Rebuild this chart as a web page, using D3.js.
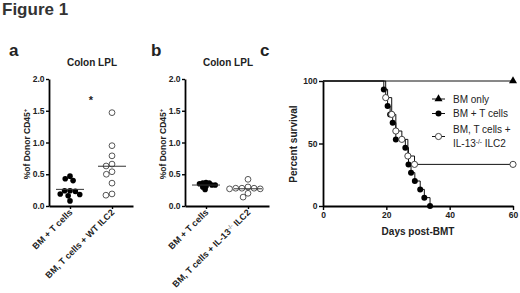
<!DOCTYPE html>
<html>
<head>
<meta charset="utf-8">
<script src="https://cdn.jsdelivr.net/npm/d3@7"></script>
<style>
  body { margin: 0; background: #fff; }
  svg { font-family: "Liberation Sans", Arial, sans-serif; }
  .axis path, .axis line { stroke: #000; }
  .axis path { stroke-width: 1.8; }
  .axis line { stroke-width: 1.4; }
  .axis text { font-size: 8.5px; font-weight: bold; fill: #222; }
</style>
</head>
<body>
<div id="chart"></div>
<script>
// panel a / b categories
const catsA = ["BM + T cells", "BM, T cells + WT ILC2"];
const catsB = ["BM + T cells", "BM, T cells + IL-13 ILC2"];
const yTicksAB = [0, 0.5, 1.0, 1.5, 2.0];

// % of donor CD45+ (colon LPL)
const aBmT = [0.47, 0.40, 0.43, 0.18, 0.24, 0.23, 0.24, 0.19, 0.08, 0.16];
const aWtIlc2 = [1.47, 0.95, 0.79, 0.66, 0.63, 0.50, 0.54, 0.36, 0.17, 0.19];
const bBmT = [0.36, 0.37, 0.33, 0.30, 0.26, 0.33, 0.36, 0.35, 0.31];
const bIl13 = [0.42, 0.28, 0.28, 0.27, 0.27, 0.30, 0.20, 0.14, 0.28];

// panel c survival
const bmOnlyDays = [0, 60];
const bmOnlyPct = [100, 100];
const bmTDays = [0, 19.2, 20.4, 21.2, 22, 23, 26, 27, 27.8, 29, 30.7, 32, 33.8];
const bmTPct = [100, 93.3, 80, 73.3, 66.7, 53.3, 46.7, 33.3, 26.7, 20, 13.3, 6.7, 0];
const il13Days = [0, 19.8, 21.7, 23, 24.9, 26.8, 28.9, 60];
const il13Pct = [100, 86.7, 73.3, 60, 53.3, 40, 33.3, 33.3];
const xTicksC = [0, 20, 40, 60];
const yTicksC = [0, 50, 100];

const svg = d3.select("#chart")
  .append("svg")
  .attr("width", 520)
  .attr("height", 293);

svg.append("text")
  .attr("x", 2).attr("y", 15)
  .style("font-size", "17px").style("font-weight", "bold").style("fill", "#333")
  .text("Figure 1");

// simple beeswarm: returns x offsets in px
function swarm(values, y, D) {
  const placed = [];
  const out = new Array(values.length);
  values.map((v, i) => ({ v, i }))
    .sort((p, q) => q.v - p.v)
    .forEach(p => {
      const py = y(p.v);
      const cands = [0];
      placed.forEach(q => {
        const dy = py - q.py;
        if (Math.abs(dy) < D) {
          const dx = Math.sqrt(D * D - dy * dy);
          cands.push(q.dx + dx, q.dx - dx);
        }
      });
      const ok = cands.filter(c => placed.every(q => Math.hypot(c - q.dx, py - q.py) >= D - 1e-6));
      ok.sort((m, n) => Math.abs(m) - Math.abs(n) || m - n);
      const dx = ok[0];
      placed.push({ py, dx });
      out[p.i] = dx;
    });
  return out;
}

function scatterPanel(opts) {
  const g = svg.append("g");
  const x = d3.scalePoint().domain(opts.cats).range([opts.x0, opts.x0 + 84]).padding(0.5);
  const y = d3.scaleLinear().domain([0, 2]).range([206, 79]);

  g.append("g").attr("class", "axis")
    .attr("transform", `translate(${opts.x0},0)`)
    .call(d3.axisLeft(y).tickValues(yTicksAB).tickFormat(d3.format(".1f")).tickSize(3).tickSizeOuter(0).tickPadding(1.5));

  g.append("g").attr("class", "axis")
    .attr("transform", "translate(0,206)")
    .call(d3.axisBottom(x).tickSize(3).tickSizeOuter(0).tickFormat(""));

  const series = [
    { vals: opts.s1, filled: true, D: opts.d1 },
    { vals: opts.s2, filled: false, D: 6.2 }
  ];
  series.forEach((s, k) => {
    const cx = x(opts.cats[k]);
    const offs = swarm(s.vals, y, s.D);
    g.selectAll(null).data(s.vals).enter().append("circle")
      .attr("cx", (d, i) => cx + offs[i])
      .attr("cy", d => y(d))
      .attr("r", s.filled ? 2.8 : 2.9)
      .attr("fill", s.filled ? "#000" : "#fff")
      .attr("stroke", s.filled ? "none" : "#444")
      .attr("stroke-width", 0.9);
    const m = d3.mean(s.vals);
    g.append("line")
      .attr("x1", cx - 14).attr("x2", cx + 14)
      .attr("y1", y(m)).attr("y2", y(m))
      .attr("stroke", "#333").attr("stroke-width", 1);
  });

  // rotated category labels
  opts.cats.forEach((c, k) => {
    const t = g.append("text")
      .attr("transform", `translate(${x(c) + 3},213) rotate(-45)`)
      .attr("text-anchor", "end")
      .style("font-size", "9px").style("font-weight", "bold").style("fill", "#222");
    if (c.includes("IL-13")) {
      t.append("tspan").text("BM, T cells + IL-13");
      t.append("tspan").attr("baseline-shift", "super").style("font-size", "6px").style("fill", "#888").text("-/-");
      t.append("tspan").text(" ILC2");
    } else {
      t.text(c);
    }
  });

  g.append("text")
    .attr("transform", `translate(${opts.x0 - 19},144) rotate(-90)`)
    .attr("text-anchor", "middle")
    .style("font-size", "8.5px").style("font-weight", "bold").style("fill", "#222")
    .call(t => {
      t.append("tspan").text("%of Donor CD45");
      t.append("tspan").attr("baseline-shift", "super").style("font-size", "6px").text("+");
    });

  g.append("text")
    .attr("x", opts.x0 + 43).attr("y", 66)
    .attr("text-anchor", "middle")
    .style("font-size", "10px").style("font-weight", "bold").style("fill", "#222")
    .text("Colon LPL");

  g.append("text")
    .attr("x", opts.letterX).attr("y", 56)
    .style("font-size", "17px").style("font-weight", "bold").style("fill", "#222")
    .text(opts.letter);

  return { g, x, y };
}

const pa = scatterPanel({ cats: catsA, s1: aBmT, s2: aWtIlc2, d1: 5.4, x0: 49, letter: "a", letterX: 9 });
pa.g.append("text")
  .attr("x", 91).attr("y", 104)
  .attr("text-anchor", "middle")
  .style("font-size", "11px").style("font-weight", "bold").style("fill", "#222")
  .text("*");

scatterPanel({ cats: catsB, s1: bBmT, s2: bIl13, d1: 3.3, x0: 185, letter: "b", letterX: 151 });

// panel c: survival
const xc = d3.scaleLinear().domain([0, 60]).range([323, 513]);
const yc = d3.scaleLinear().domain([0, 100]).range([206, 81]);
const gc = svg.append("g");

gc.append("g").attr("class", "axis")
  .attr("transform", "translate(323,0)")
  .call(d3.axisLeft(yc).tickValues(yTicksC).tickSize(4).tickSizeOuter(0).tickPadding(1.5));
gc.append("g").attr("class", "axis")
  .attr("transform", "translate(0,206)")
  .call(d3.axisBottom(xc).tickValues(xTicksC).tickSize(4).tickSizeOuter(0).tickPadding(2));

const survLine = d3.line().x(d => xc(d[0])).y(d => yc(d[1])).curve(d3.curveStepAfter);

const curves = [
  { days: bmOnlyDays, pct: bmOnlyPct, sym: "tri" },
  { days: bmTDays, pct: bmTPct, sym: "fill" },
  { days: il13Days, pct: il13Pct, sym: "open" }
];

function drawSym(sel, sym) {
  if (sym === "tri") {
    sel.append("path").attr("d", d3.symbol(d3.symbolTriangle, 28)()).attr("fill", "#000");
  } else {
    sel.append("circle").attr("r", sym === "fill" ? 3 : 3.1)
      .attr("fill", sym === "fill" ? "#000" : "#fff")
      .attr("stroke", sym === "fill" ? "none" : "#333").attr("stroke-width", 0.9);
  }
}

curves.forEach(c => {
  const pts = c.days.map((d, i) => [d, c.pct[i]]);
  gc.append("path").attr("d", survLine(pts))
    .attr("fill", "none").attr("stroke", "#111").attr("stroke-width", 1);
  gc.selectAll(null).data(pts.slice(1)).enter().append("g")
    .attr("transform", d => `translate(${xc(d[0])},${yc(d[1])})`)
    .each(function () { drawSym(d3.select(this), c.sym); });
});

// legend
const legendItems = [
  { sym: "tri", lines: ["BM only"], y: 99 },
  { sym: "fill", lines: ["BM + T cells"], y: 113.5 },
  { sym: "open", lines: ["BM, T cells +", "IL-13"], y: 136.5 }
];
legendItems.forEach(it => {
  const lg = gc.append("g").attr("transform", `translate(432,${it.y})`);
  lg.append("line").attr("x1", 0).attr("x2", 13).attr("stroke", "#111").attr("stroke-width", 1);
  drawSym(lg.append("g").attr("transform", "translate(6.5,0)"), it.sym);
  const t = lg.append("text").attr("x", 21)
    .style("font-size", "10px").style("fill", "#222");
  if (it.lines.length === 1) {
    t.attr("y", 3.5).text(it.lines[0]);
  } else {
    t.append("tspan").attr("x", 21).attr("y", -3.5).text(it.lines[0]);
    t.append("tspan").attr("x", 21).attr("y", 10).text(it.lines[1]);
    t.append("tspan").attr("baseline-shift", "super").style("font-size", "6.5px").text("-/-");
    t.append("tspan").text(" ILC2");
  }
});

gc.append("text")
  .attr("transform", "translate(297,144) rotate(-90)")
  .attr("text-anchor", "middle")
  .style("font-size", "10px").style("font-weight", "bold").style("fill", "#222")
  .text("Percent survival");

gc.append("text")
  .attr("x", 418).attr("y", 235)
  .attr("text-anchor", "middle")
  .style("font-size", "10px").style("font-weight", "bold").style("fill", "#222")
  .text("Days post-BMT");

gc.append("text")
  .attr("x", 260).attr("y", 56)
  .style("font-size", "17px").style("font-weight", "bold").style("fill", "#222")
  .text("c");
</script>
</body>
</html>
